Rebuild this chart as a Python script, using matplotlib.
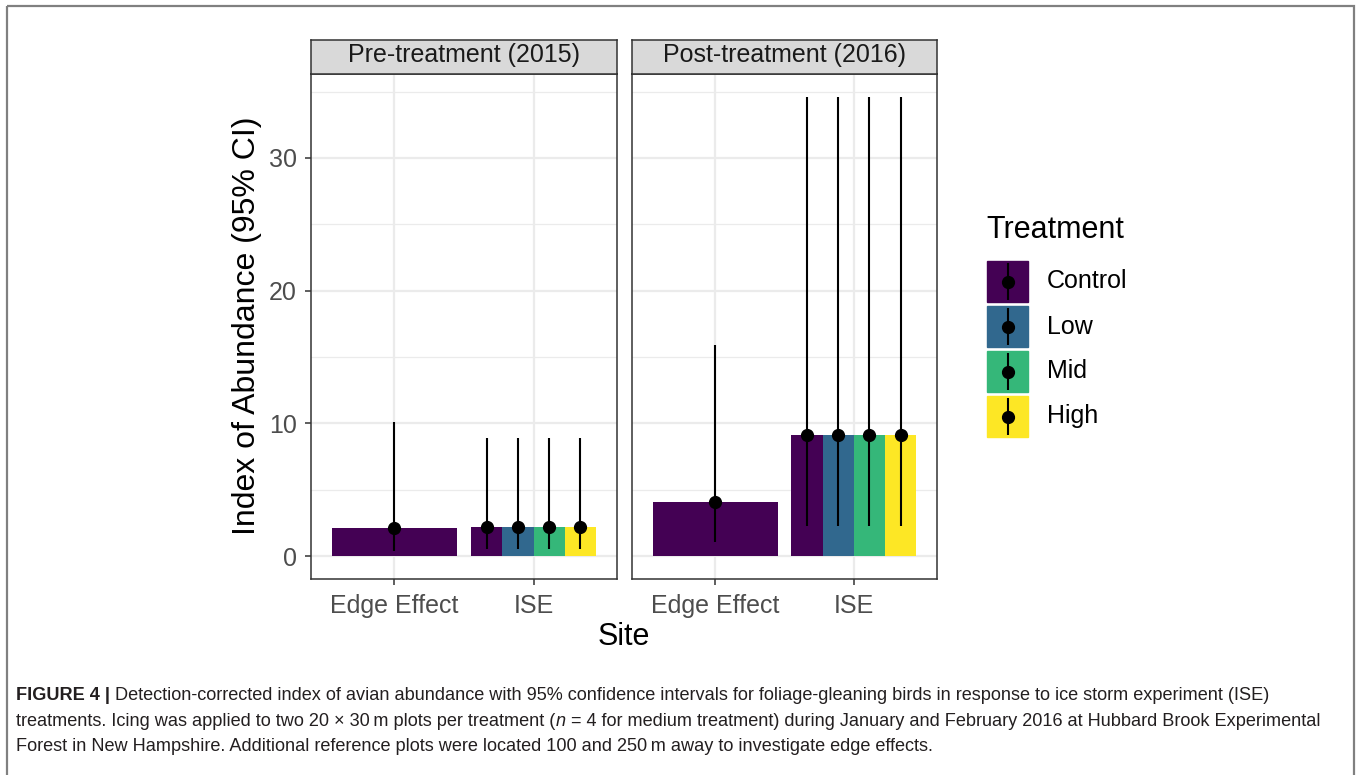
import matplotlib
matplotlib.use('Agg')
import matplotlib.pyplot as plt
from matplotlib.patches import Rectangle
import numpy as np

W, H = 1358, 775

# data
periods = ['Pre-treatment (2015)', 'Post-treatment (2016)']
sites = ['Edge Effect', 'ISE']
treatments = ['Control', 'Low', 'Mid', 'High']
colors = ['#440154', '#31688E', '#35B779', '#FDE725']

# Edge Effect site only has the Control group (pre, post)
edge_est = [2.1, 4.05]
edge_lo = [0.4, 1.05]
edge_hi = [10.1, 15.9]

# ISE site, one value per treatment
ise_pre_est = [2.2, 2.2, 2.2, 2.2]
ise_pre_lo = [0.5, 0.5, 0.5, 0.5]
ise_pre_hi = [8.9, 8.9, 8.9, 8.9]
ise_post_est = [9.1, 9.1, 9.1, 9.1]
ise_post_lo = [2.3, 2.3, 2.3, 2.3]
ise_post_hi = [34.6, 34.6, 34.6, 34.6]

ise_est = [ise_pre_est, ise_post_est]
ise_lo = [ise_pre_lo, ise_post_lo]
ise_hi = [ise_pre_hi, ise_post_hi]

y_ticks = [0, 10, 20, 30]
y_minor = [5, 15, 25, 35]

plt.rcParams['font.family'] = ['Liberation Sans', 'DejaVu Sans']

fig = plt.figure(figsize=(W / 100, H / 100), dpi=100)


def px_axes(x0, y0, x1, y1, **kw):
    return fig.add_axes([x0 / W, 1 - y1 / H, (x1 - x0) / W, (y1 - y0) / H], **kw)


panels = [(311, 74, 617, 579), (632, 74, 937, 579)]
dark = '#333333'
bar_w = 0.9
n_tr = len(treatments)
offsets = (np.arange(n_tr) - (n_tr - 1) / 2) * bar_w / n_tr

for i, (x0, y0, x1, y1) in enumerate(panels):
    ax = px_axes(x0, y0, x1, y1)
    ax.set_xlim(-0.6, 1.6)
    ax.set_ylim(-1.73, 36.33)
    ax.set_xticks(range(len(sites)))
    ax.set_xticklabels(sites)
    ax.set_yticks(y_ticks)
    ax.set_yticks(y_minor, minor=True)
    ax.set_axisbelow(True)
    ax.grid(which='major', color='#EBEBEB', lw=1.6)
    ax.yaxis.grid(which='minor', color='#EBEBEB', lw=0.9)

    # Edge effect (Control only, full width)
    ax.bar(0, edge_est[i], width=bar_w, color=colors[0], zorder=2)
    ax.vlines(0, edge_lo[i], edge_hi[i], color='black', lw=1.5, zorder=3)
    ax.plot(0, edge_est[i], 'o', color='black', ms=8.5, zorder=4)

    # ISE dodged by treatment
    xs = 1 + offsets
    ax.bar(xs, ise_est[i], width=bar_w / n_tr, color=colors, zorder=2)
    ax.vlines(xs, ise_lo[i], ise_hi[i], color='black', lw=1.5, zorder=3)
    ax.plot(xs, ise_est[i], 'o', color='black', ms=8.5, zorder=4, ls='none')

    for s in ax.spines.values():
        s.set_color(dark)
        s.set_linewidth(1.1)
    ax.tick_params(which='major', length=4.3, width=1.1, color=dark,
                   labelcolor='#4D4D4D', labelsize=18)
    ax.tick_params(axis='x', pad=6.5)
    ax.tick_params(axis='y', pad=6)
    ax.tick_params(which='minor', length=0)
    if i > 0:
        ax.tick_params(axis='y', left=False, labelleft=False)

    # facet strip
    st = px_axes(x0, 40, x1, y0)
    st.set_facecolor('#D9D9D9')
    st.set_xticks([])
    st.set_yticks([])
    for s in st.spines.values():
        s.set_color(dark)
        s.set_linewidth(1.1)
    st.text(0.5, 0.56, periods[i], ha='center', va='center', fontsize=18,
            color='#1A1A1A', transform=st.transAxes)

fig.text(247 / W, 1 - 326 / H, 'Index of Abundance (95% CI)', rotation=90,
         ha='center', va='center', fontsize=23)
fig.text(624 / W, 1 - 637 / H, 'Site', ha='center', va='center', fontsize=22)

# overlay in pixel coordinates for legend, frame and caption
ov = fig.add_axes([0, 0, 1, 1])
ov.set_xlim(0, W)
ov.set_ylim(H, 0)
ov.axis('off')
ov.patch.set_alpha(0)

ov.text(986, 230, 'Treatment', ha='left', va='center', fontsize=22)
for k, t in enumerate(treatments):
    ky = 261 + k * 45
    ov.add_patch(Rectangle((987, ky), 41, 41, color=colors[k]))
    ov.vlines(1007.5, ky + 2, ky + 39, color='black', lw=1.5)
    ov.plot(1007.5, ky + 20.5, 'o', color='black', ms=8.5)
    ov.text(1047, ky + 20.5, t, ha='left', va='center', fontsize=18)

ov.add_patch(Rectangle((7, 6), 1347, 820, fill=False, ec='#808080', lw=1.6))

# caption
cap_fam = ['Liberation Sans', 'DejaVu Sans']
cap_col = '#231F20'
lines = [
    [('FIGURE 4 |', 'bold', 'normal'),
     (' Detection-corrected index of avian abundance with 95% confidence intervals '
      'for foliage-gleaning birds in response to ice storm experiment (ISE)', 'normal', 'normal')],
    [('treatments. Icing was applied to two 20 \u00d7 30\u2009m plots per treatment (', 'normal', 'normal'),
     ('n', 'normal', 'italic'),
     (' = 4 for medium treatment) during January and February 2016 at Hubbard Brook Experimental',
      'normal', 'normal')],
    [('Forest in New Hampshire. Additional reference plots were located 100 and 250\u2009m '
      'away to investigate edge effects.', 'normal', 'normal')],
]
line_end = [1272, 1335, 935]
line_y = [700, 726, 751]
x_start = 16

renderer = fig.canvas.get_renderer()
scales = []
for ln, xe in zip(lines, line_end):
    w = 0
    for txt, wgt, sty in ln:
        p = ov.text(0, 0, txt, fontsize=10, family=cap_fam, weight=wgt, style=sty)
        w += p.get_window_extent(renderer).width
        p.remove()
    scales.append((xe - x_start) / w)
cap_size = 10 * float(np.mean(scales))

for ln, yb in zip(lines, line_y):
    x = x_start
    for txt, wgt, sty in ln:
        t = ov.text(x, yb, txt, fontsize=cap_size, family=cap_fam, weight=wgt,
                    style=sty, color=cap_col, ha='left', va='baseline')
        x += t.get_window_extent(renderer).width

fig.savefig('out.png', dpi=100)
